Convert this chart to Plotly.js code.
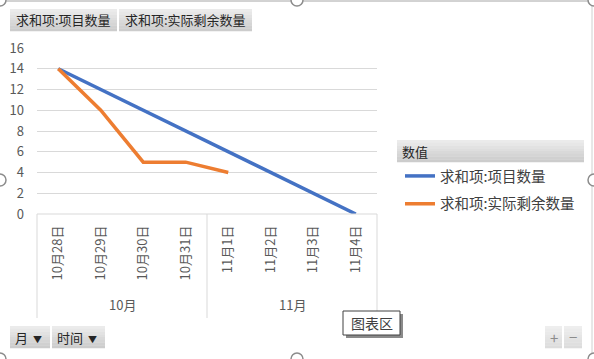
<!DOCTYPE html>
<html>
<head>
<meta charset="utf-8">
<script src="https://cdn.plot.ly/plotly-3.0.1.min.js"></script>
<style>html,body{margin:0;padding:0;background:#fff;}#chart{width:594px;height:359px;}</style>
</head>
<body>
<div id="chart"></div>
<script>
// ---- data ----
const months = ["10月", "10月", "10月", "10月", "11月", "11月", "11月", "11月"];
const dates = ["10月28日", "10月29日", "10月30日", "10月31日", "11月1日", "11月2日", "11月3日", "11月4日"];
const seriesNames = ["求和项:项目数量", "求和项:实际剩余数量"];
const planned = [14, 12, 10, 8, 6, 4, 2, 0];
const remaining = [14, 10, 5, 5, 4, null, null, null];
const yTicks = [0, 2, 4, 6, 8, 10, 12, 14, 16];

// ---- geometry helpers (pixels -> paper) ----
const W = 594, H = 359;
const L = 37, R = 377, T = 48, B = 214;
const px = x => (x - L) / (R - L);
const py = y => (B - y) / (B - T);
const FONT = '"Noto Sans CJK SC", "Noto Sans", sans-serif';

const shapes = [];
const annotations = [];
function rect(x0, y0, x1, y1, fill, line, lw) {
  shapes.push({type: 'rect', xref: 'paper', yref: 'paper', x0: px(x0), x1: px(x1), y0: py(y1), y1: py(y0),
    fillcolor: fill, line: {color: line || fill, width: lw === undefined ? 0 : lw}, layer: 'above'});
}
function mix(a, b, t) { return Math.round(a + (b - a) * t); }
function btn(x0, y0, x1, y1, light) {
  const c0 = light ? 238 : 235, c1 = light ? 220 : 204;
  const n = 8, h = (y1 - y0) / n;
  for (let i = 0; i < n; i++) {
    const v = mix(c0, c1, i / (n - 1));
    const col = 'rgb(' + v + ',' + v + ',' + v + ')';
    rect(x0, y0 + i * h, x1, y0 + (i + 1) * h + 0.3, col);
  }
}
function line(x0, y0, x1, y1, color, w) {
  shapes.push({type: 'line', xref: 'paper', yref: 'paper', x0: px(x0), x1: px(x1), y0: py(y0), y1: py(y1),
    line: {color: color, width: w}, layer: 'above'});
}
function text(x, y, t, size, color, anchor) {
  annotations.push({xref: 'paper', yref: 'paper', x: px(x), y: py(y), text: t, showarrow: false,
    xanchor: anchor || 'left', yanchor: 'middle', font: {family: FONT, size: size, color: color}});
}
function circle(cx, cy, r) {
  shapes.push({type: 'circle', xref: 'paper', yref: 'paper', x0: px(cx - r), x1: px(cx + r), y0: py(cy + r), y1: py(cy - r),
    fillcolor: '#ffffff', line: {color: '#8c8c8c', width: 1.5}, layer: 'above'});
}

// outer frame
line(0, 1, W, 1, '#a6a6a6', 1);
line(W - 2, 0, W - 2, H, '#d0d0d0', 1);

// field buttons on top
btn(10, 9, 117, 31);
btn(119, 9, 252, 31);
text(14, 20, seriesNames[0], 13, '#262626');
text(123, 20, seriesNames[1], 13, '#262626');

// category axis box
line(L, B, R, B, '#d9d9d9', 1);
const groupEdges = [L, L + (R - L) / 2, R];
groupEdges.forEach(x => line(x, B, x, 318, '#d9d9d9', 1));
// month group labels
const uniqMonths = [...new Set(months)];
uniqMonths.forEach((m, i) => {
  const idx = months.map((v, k) => v === m ? k : -1).filter(k => k >= 0);
  const c = (idx[0] + idx[idx.length - 1]) / 2;
  annotations.push({xref: 'x', yref: 'paper', x: c, y: py(304), text: m, showarrow: false,
    xanchor: 'center', yanchor: 'middle', font: {family: FONT, size: 13, color: '#595959'}});
});

// legend header
btn(397, 140, 584, 162);
text(400, 151, '数值', 13, '#262626');

// bottom buttons
btn(10, 326, 50, 348);
btn(52, 326, 105, 348);
text(13, 337, '月 <span style="font-size:9px"> ▼</span>', 13, '#262626');
text(55, 337, '时间 <span style="font-size:9px"> ▼</span>', 13, '#262626');
btn(545, 326, 562, 348, true);
btn(564, 326, 582, 348, true);
text(553.5, 337, '+', 15, '#8c8c8c', 'center');
text(573, 336, '−', 15, '#8c8c8c', 'center');

// tooltip
rect(346, 314, 403, 338, '#8a8a8a');
rect(343, 311, 400, 335, '#ffffff', '#404040', 1);
text(371.5, 323, '图表区', 14, '#404040', 'center');

// selection handles
[[0, 0], [297, 0], [W, 0], [0, 180], [W, 180], [0, H], [297, H], [W, H]].forEach(p => circle(p[0], p[1], 6));

const traces = [
  {x: dates, y: planned, name: seriesNames[0], type: 'scatter', mode: 'lines',
   line: {color: '#4472C4', width: 3.5}, legendgroup: 'a', cliponaxis: false},
  {x: dates, y: remaining, name: seriesNames[1], type: 'scatter', mode: 'lines',
   line: {color: '#ED7D31', width: 3.5}, legendgroup: 'b', connectgaps: false, cliponaxis: false}
];

const layout = {
  width: W, height: H,
  margin: {l: L, r: W - R, t: T, b: H - B, pad: 0},
  paper_bgcolor: '#ffffff', plot_bgcolor: '#ffffff',
  font: {family: FONT, color: '#595959'},
  showlegend: true,
  legend: {x: px(400), y: py(160), xanchor: 'left', yanchor: 'top',
    font: {family: FONT, size: 14.5, color: '#404040'}, tracegroupgap: 6, bgcolor: 'rgba(0,0,0,0)'},
  xaxis: {type: 'category', categoryorder: 'array', categoryarray: dates, range: [-0.5, 7.5],
    showgrid: false, zeroline: false, showline: false, ticks: '', tickangle: -90,
    tickfont: {family: FONT, size: 13, color: '#595959'}, ticklabelstandoff: 8, fixedrange: true},
  yaxis: {range: [0, 16], tickvals: yTicks, ticktext: yTicks.map(String), showgrid: true, gridcolor: '#d9d9d9',
    gridwidth: 1, zeroline: false, showline: false, ticks: '', ticklabelstandoff: 12,
    tickfont: {family: FONT, size: 13, color: '#595959'}, fixedrange: true},
  shapes: shapes,
  annotations: annotations
};

Plotly.newPlot('chart', traces, layout, {displayModeBar: false, staticPlot: true});
</script>
</body>
</html>
